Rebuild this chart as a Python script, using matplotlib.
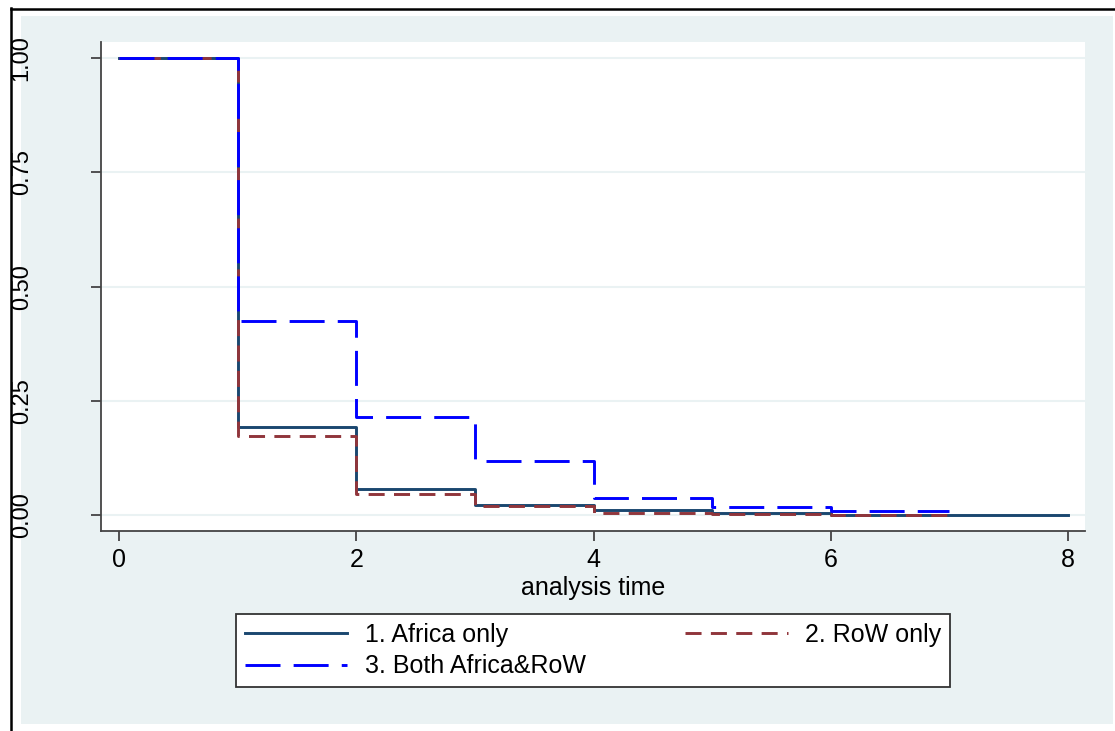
import matplotlib.pyplot as plt
from matplotlib.lines import Line2D
from matplotlib.patches import Rectangle

plt.rcParams['font.family'] = ['Liberation Sans', 'DejaVu Sans']

# Kaplan-Meier estimates
t_africa = [0, 1, 2, 3, 4, 5, 6, 7, 8]
s_africa = [1.0, 0.194, 0.058, 0.022, 0.011, 0.006, 0.002, 0.001, 0.001]
t_row = [0, 1, 2, 3, 4, 5, 6, 7]
s_row = [1.0, 0.174, 0.047, 0.020, 0.006, 0.003, 0.001, 0.001]
t_both = [0, 1, 2, 3, 4, 5, 6, 7]
s_both = [1.0, 0.424, 0.216, 0.118, 0.038, 0.018, 0.009, 0.009]

labels = ['1. Africa only', '2. RoW only', '3. Both Africa&RoW']
xticks = [0, 2, 4, 6, 8]
yticks = [0, 0.25, 0.5, 0.75, 1.0]
ytick_labels = ['0.00', '0.25', '0.50', '0.75', '1.00']

W, H = 1115, 731
fig = plt.figure(figsize=(W / 100, H / 100), dpi=100)
fig.patch.set_facecolor('white')

# stata-style outer background
fig.add_artist(Rectangle((21 / W, 7 / H), (1113 - 21) / W, 708 / H,
                         transform=fig.transFigure, facecolor='#EAF2F3',
                         edgecolor='none', zorder=0))

ax = fig.add_axes([101 / W, (H - 531) / H, (1085 - 101) / W, (531 - 42) / H])
ax.set_facecolor('white')

l1, = ax.plot(t_africa, s_africa, drawstyle='steps-post', color='#1A476F', lw=2.1)
l2, = ax.plot(t_row, s_row, drawstyle='steps-post', color='#90353B', lw=2.1,
              dashes=(5.5, 3.2))
l3, = ax.plot(t_both, s_both, drawstyle='steps-post', color='#0000FF', lw=2.1,
              dashes=(12, 4.5))

ax.set_xlim(-0.152, 8.143)
ax.set_ylim(-0.034, 1.035)
ax.set_xticks(xticks)
ax.set_yticks(yticks)
ax.set_yticklabels(ytick_labels)
ax.grid(axis='y', color='#EAF2F3', lw=1.5, zorder=0)
ax.set_axisbelow(True)

for side in ['top', 'right']:
    ax.spines[side].set_visible(False)
for side in ['left', 'bottom']:
    ax.spines[side].set_color('#444444')
    ax.spines[side].set_linewidth(1.3)

ax.tick_params(axis='both', length=7.2, width=1.3, color='#444444')
ax.tick_params(axis='x', pad=5, labelsize=18)
ax.tick_params(axis='y', labelrotation=90, pad=42, labelsize=17)
for lab in ax.get_yticklabels():
    lab.set_va('center')

ax.set_xlabel('analysis time', fontsize=18, labelpad=3)

leg = fig.legend([l1, l3, l2], [labels[0], labels[2], labels[1]], ncol=2,
                 loc='center', mode='expand',
                 bbox_to_anchor=(236 / W, (H - 690) / H, (950 - 236) / W, (690 - 611) / H),
                 fontsize=18, frameon=True, fancybox=False, shadow=False,
                 framealpha=1, facecolor='white',
                 handlelength=4.1, handletextpad=0.7, labelspacing=0.3,
                 borderpad=0.35, borderaxespad=0)
leg.get_frame().set_edgecolor('#333333')
leg.get_frame().set_linewidth(1.3)

# black frame lines on the left and top
fig.add_artist(Line2D([11 / W, 11 / W], [0, (H - 8) / H], transform=fig.transFigure,
                      color='black', lw=1.8, zorder=10))
fig.add_artist(Line2D([11 / W, 1], [(H - 9) / H, (H - 9) / H], transform=fig.transFigure,
                      color='black', lw=1.8, zorder=10))

fig.savefig('out.png', dpi=100)
